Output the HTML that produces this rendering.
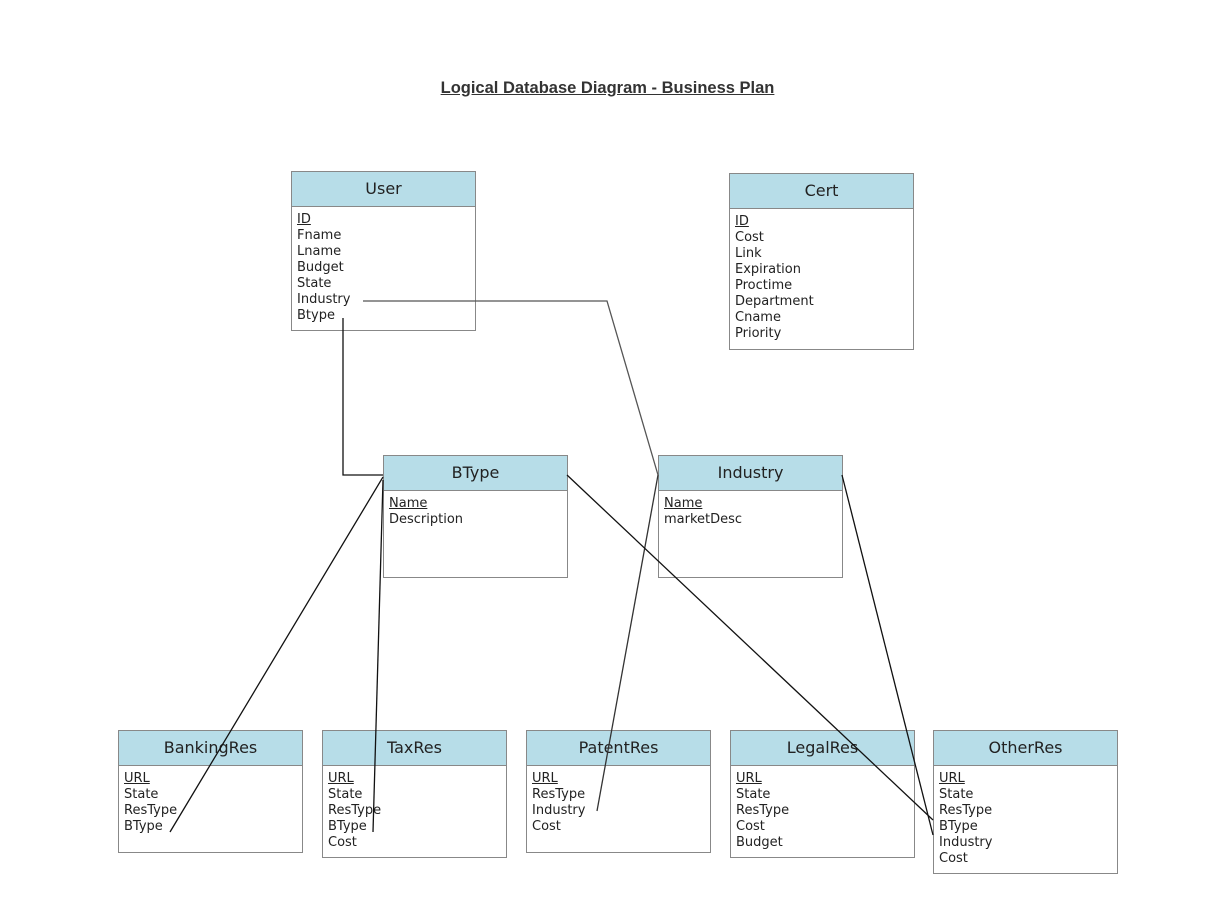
<!DOCTYPE html>
<html><head><meta charset="utf-8"><style>
body{margin:0;background:#fff;width:1209px;height:906px;position:relative;overflow:hidden;font-family:"DejaVu Sans","Liberation Sans",sans-serif;}
.t{position:absolute;box-sizing:border-box;border:1px solid #888;background:#fff;}
.h{height:34px;background:#b7dde8;border-bottom:1px solid #888;text-align:center;line-height:34px;font-size:16px;color:#222;}
.b{padding:5px 0 0 5px;font-size:13px;line-height:16px;color:#222;}
.u{text-decoration:underline;}
#title{position:absolute;top:79px;left:0;width:1215px;text-align:center;font-family:"Liberation Sans",sans-serif;font-weight:bold;font-size:16.5px;text-decoration:underline;color:#333;}
svg{position:absolute;left:0;top:0;}
</style></head><body>
<div id="title">Logical Database Diagram - Business Plan</div>

<div class="t" style="left:291px;top:171px;width:185px;height:160px"><div class="h">User</div><div class="b"><span class="u">ID</span><br>Fname<br>Lname<br>Budget<br>State<br>Industry<br>Btype</div></div>
<div class="t" style="left:729px;top:173px;width:185px;height:177px"><div class="h">Cert</div><div class="b"><span class="u">ID</span><br>Cost<br>Link<br>Expiration<br>Proctime<br>Department<br>Cname<br>Priority</div></div>
<div class="t" style="left:383px;top:455px;width:185px;height:123px"><div class="h">BType</div><div class="b"><span class="u">Name</span><br>Description</div></div>
<div class="t" style="left:658px;top:455px;width:185px;height:123px"><div class="h">Industry</div><div class="b"><span class="u">Name</span><br>marketDesc</div></div>
<div class="t" style="left:118px;top:730px;width:185px;height:123px"><div class="h">BankingRes</div><div class="b"><span class="u">URL</span><br>State<br>ResType<br>BType</div></div>
<div class="t" style="left:322px;top:730px;width:185px;height:128px"><div class="h">TaxRes</div><div class="b"><span class="u">URL</span><br>State<br>ResType<br>BType<br>Cost</div></div>
<div class="t" style="left:526px;top:730px;width:185px;height:123px"><div class="h">PatentRes</div><div class="b"><span class="u">URL</span><br>ResType<br>Industry<br>Cost</div></div>
<div class="t" style="left:730px;top:730px;width:185px;height:128px"><div class="h">LegalRes</div><div class="b"><span class="u">URL</span><br>State<br>ResType<br>Cost<br>Budget</div></div>
<div class="t" style="left:933px;top:730px;width:185px;height:144px"><div class="h">OtherRes</div><div class="b"><span class="u">URL</span><br>State<br>ResType<br>BType<br>Industry<br>Cost</div></div>

<svg width="1209" height="906" fill="none" stroke-width="1.3">
<polyline points="343,318 343,475 383,475" stroke="#111"/>
<polyline points="363,301 607,301 658,475" stroke="#555"/>
<line x1="383" y1="477" x2="170" y2="832" stroke="#111"/>
<line x1="383" y1="480" x2="373" y2="832" stroke="#111"/>
<line x1="658" y1="475" x2="597" y2="811" stroke="#333"/>
<line x1="567" y1="475" x2="933" y2="820" stroke="#111"/>
<line x1="842" y1="475" x2="933" y2="835" stroke="#111"/>
</svg>
</body></html>
